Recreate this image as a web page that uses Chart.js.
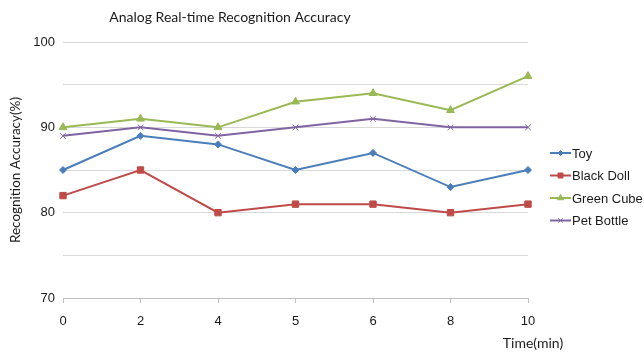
<!DOCTYPE html>
<html>
<head>
<meta charset="utf-8">
<script src="https://cdn.jsdelivr.net/npm/chart.js@4/dist/chart.umd.min.js"></script>
<style>
  html, body { margin: 0; padding: 0; background: #ffffff; }
  #wrap { width: 644px; height: 352px; }
</style>
</head>
<body>
<div id="wrap"><canvas id="c" width="644" height="352"></canvas></div>
<script>
// Time points (minutes) and accuracy per object
const timeLabels = ['0', '2', '4', '5', '6', '8', '10'];
const toy        = [85, 89, 88, 85, 87, 83, 85];
const blackDoll  = [82, 85, 80, 81, 81, 80, 81];
const greenCube  = [90, 91, 90, 93, 94, 92, 96];
const petBottle  = [89, 90, 89, 90, 91, 90, 90];

const chartTitle = 'Analog Real-time Recognition Accuracy';
const xTitle = 'Time(min)';
const yTitle = 'Recognition Accuracy(%)';

function series(label, data, color, style, radius) {
  return {
    label, data,
    borderColor: color, backgroundColor: color,
    borderWidth: 2, pointStyle: style, pointRadius: radius,
    pointHoverRadius: radius, pointBorderWidth: 1,
    tension: 0, fill: false
  };
}

// Title, x-axis caption and legend drawn around the plot area
const decorations = {
  id: 'decorations',
  afterDraw(chart) {
    const ctx = chart.ctx;
    ctx.save();
    ctx.fillStyle = '#1a1a1a';
    ctx.textBaseline = 'middle';
    ctx.textAlign = 'center';
    ctx.font = '14px Lato, "Liberation Sans", sans-serif';
    ctx.fillText(chartTitle, 230, 17);
    ctx.fillText(xTitle, 533, 343);

    // legend: short line with the marker on it, then the label
    const lx = 550, lw = 21, ly0 = 153, step = 22.5;
    ctx.textAlign = 'left';
    chart.data.datasets.forEach((ds, i) => {
      const y = ly0 + i * step;
      ctx.strokeStyle = ds.borderColor;
      ctx.fillStyle = ds.backgroundColor;
      ctx.lineWidth = 2;
      ctx.beginPath();
      ctx.moveTo(lx, y);
      ctx.lineTo(lx + lw, y);
      ctx.stroke();
      ctx.lineWidth = 1;
      Chart.helpers.drawPoint(ctx, {
        pointStyle: ds.pointStyle,
        radius: Math.max(ds.pointRadius - 1, 2.5),
        rotation: 0,
        borderWidth: 1
      }, lx + lw / 2, y);
      ctx.fillStyle = '#1a1a1a';
      ctx.font = '13px "Liberation Sans", Arial, sans-serif';
      ctx.fillText(ds.label, lx + lw + 1, y + 1);
    });
    ctx.restore();
  }
};

new Chart(document.getElementById('c'), {
  type: 'line',
  data: {
    labels: timeLabels,
    datasets: [
      series('Toy', toy, '#4a7ebb', 'rectRot', 3.5),
      series('Black Doll', blackDoll, '#be4b48', 'rect', 4.5),
      series('Green Cube', greenCube, '#98b954', 'triangle', 4.5),
      series('Pet Bottle', petBottle, '#8064a2', 'crossRot', 4)
    ]
  },
  options: {
    responsive: false,
    animation: false,
    layout: { padding: { top: 42, right: 116, bottom: 0, left: 0 } },
    plugins: {
      legend: { display: false },
      title: { display: false },
      tooltip: { enabled: false }
    },
    scales: {
      x: {
        type: 'category',
        offset: false,
        afterFit(s) { s.height = 54; },
        border: { display: true, color: '#bfbfbf', width: 1 },
        grid: { display: true, drawOnChartArea: false, tickLength: 5, color: '#bfbfbf' },
        ticks: {
          padding: 11,
          color: '#1a1a1a',
          font: { size: 13, family: '"Liberation Sans", Arial, sans-serif' },
          maxRotation: 0
        }
      },
      y: {
        min: 70, max: 100,
        afterFit(s) { s.width = 63; },
        border: { display: false },
        grid: { color: '#d9d9d9', lineWidth: 1, tickLength: 0 },
        ticks: {
          stepSize: 5,
          padding: 8,
          color: '#1a1a1a',
          font: { size: 13, family: '"Liberation Sans", Arial, sans-serif' },
          callback: v => (v % 10 === 0 ? String(v) : '')
        },
        title: {
          display: true,
          text: yTitle,
          color: '#1a1a1a',
          font: { size: 13.5, family: 'Lato, "Liberation Sans", sans-serif' },
          padding: { top: 8, bottom: 0 }
        }
      }
    }
  },
  plugins: [decorations]
});
</script>
</body>
</html>
